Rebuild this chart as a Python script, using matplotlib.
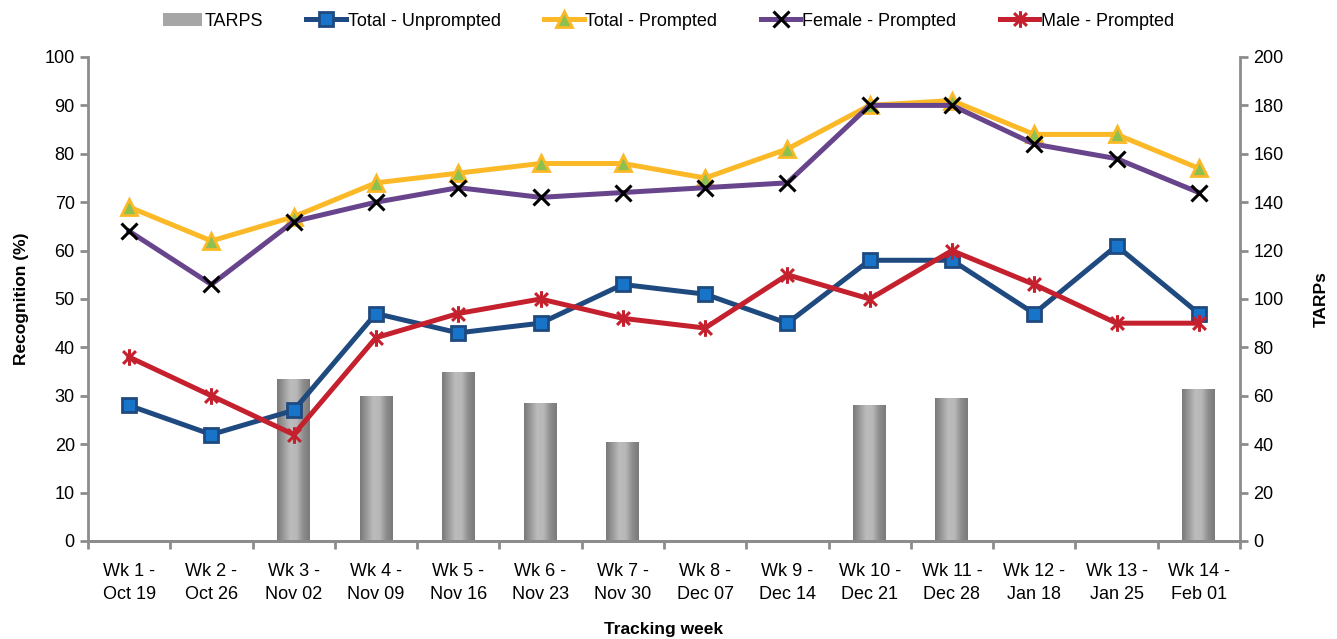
import matplotlib.pyplot as plt
import numpy as np
from matplotlib.path import Path
from matplotlib.colors import LinearSegmentedColormap
from matplotlib.patches import Patch
from matplotlib.lines import Line2D

plt.rcParams['font.family'] = ['Liberation Sans', 'DejaVu Sans']

weeks = ['Wk 1 -\nOct 19', 'Wk 2 -\nOct 26', 'Wk 3 -\nNov 02', 'Wk 4 -\nNov 09',
         'Wk 5 -\nNov 16', 'Wk 6 -\nNov 23', 'Wk 7 -\nNov 30', 'Wk 8 -\nDec 07',
         'Wk 9 -\nDec 14', 'Wk 10 -\nDec 21', 'Wk 11 -\nDec 28', 'Wk 12 -\nJan 18',
         'Wk 13 -\nJan 25', 'Wk 14 -\nFeb 01']
tarps = [0, 0, 67, 60, 70, 57, 41, 0, 0, 56, 59, 0, 0, 63]
total_unprompted = [28, 22, 27, 47, 43, 45, 53, 51, 45, 58, 58, 47, 61, 47]
total_prompted = [69, 62, 67, 74, 76, 78, 78, 75, 81, 90, 91, 84, 84, 77]
female_prompted = [64, 53, 66, 70, 73, 71, 72, 73, 74, 90, 90, 82, 79, 72]
male_prompted = [38, 30, 22, 42, 47, 50, 46, 44, 55, 50, 60, 53, 45, 45]

# excel style star: an x with a vertical stroke
star = Path([(-1, -1), (1, 1), (-1, 1), (1, -1), (0, -1.3), (0, 1.3)],
            [Path.MOVETO, Path.LINETO, Path.MOVETO, Path.LINETO, Path.MOVETO, Path.LINETO])

axis_grey = '#8c8c8c'
x = np.arange(len(weeks))

fig = plt.figure(figsize=(13.37, 6.39), dpi=100)
ax = fig.add_axes([0.0658, 0.1534, 0.8616, 0.7574])
ax2 = ax.twinx()
ax.set_zorder(ax2.get_zorder() + 1)
ax.patch.set_visible(False)

# gradient cylinder bars on the right axis
cmap = LinearSegmentedColormap.from_list('cyl', ['#7a7a7a', '#9a9a9a', '#bcbcbc', '#b8b8b8', '#8e8e8e', '#7a7a7a'])
grad = np.linspace(0, 1, 64).reshape(1, -1)
bw = 0.4
bars = ax2.bar(x, tarps, width=bw, color='#a6a6a6', linewidth=0)
for b in bars:
    if b.get_height() <= 0:
        continue
    im = ax2.imshow(grad, cmap=cmap, aspect='auto', interpolation='bicubic',
                    extent=(b.get_x(), b.get_x() + b.get_width(), 0, b.get_height()), zorder=2)
    im.set_clip_path(b)

lw = 3.6
ax.plot(x, total_unprompted, color='#1f4a80', lw=lw, marker='s', ms=10.5,
        mfc='#1874c8', mec='#1f4a80', mew=2, zorder=3)
ax.plot(x, total_prompted, color='#fbb927', lw=lw, marker='^', ms=11,
        mfc='#8dc04f', mec='#fbb927', mew=2, zorder=2)
ax.plot(x, female_prompted, color='#67448b', lw=lw, marker='x', ms=11,
        mec='black', mew=2.2, zorder=2)
ax.plot(x, male_prompted, color='#c5202e', lw=lw, marker=star, ms=12,
        mec='#c5202e', mew=2.2, zorder=3)

ax.set_xlim(-0.5, len(weeks) - 0.5)
ax.set_ylim(0, 100)
ax.set_yticks(range(0, 101, 10))
ax2.set_ylim(0, 200)
ax2.set_yticks(range(0, 201, 20))
ax2.set_xlim(-0.5, len(weeks) - 0.5)

ax.set_xticks(np.arange(-0.5, len(weeks), 1.0))
ax.set_xticklabels([])
ax.set_xticks(x, minor=True)
ax.set_xticklabels(weeks, minor=True, linespacing=1.45)
ax.tick_params(axis='x', which='minor', length=0, labelsize=13, pad=16)
ax.tick_params(axis='x', which='major', length=6, width=2, color=axis_grey)
ax.tick_params(axis='y', length=6, width=2, color=axis_grey, labelsize=13)
ax2.tick_params(axis='y', length=6, width=2, color=axis_grey, labelsize=13)

for a in (ax, ax2):
    a.spines['top'].set_visible(False)
    for s in ('left', 'right', 'bottom'):
        a.spines[s].set_color(axis_grey)
        a.spines[s].set_linewidth(2)
ax.spines['right'].set_visible(False)
ax2.spines['left'].set_visible(False)

ax.set_ylabel('Recognition (%)', fontsize=12.5, fontweight='bold', labelpad=11)
ax2.set_ylabel('TARPs', fontsize=12.5, fontweight='bold', labelpad=22)
ax.set_xlabel('Tracking week', fontsize=12.5, fontweight='bold', labelpad=14)

handles = [
    Patch(facecolor='#a6a6a6', edgecolor='none'),
    Line2D([], [], color='#1f4a80', lw=lw, marker='s', ms=10.5, mfc='#1874c8', mec='#1f4a80', mew=2),
    Line2D([], [], color='#fbb927', lw=lw, marker='^', ms=11, mfc='#8dc04f', mec='#fbb927', mew=2),
    Line2D([], [], color='#67448b', lw=lw, marker='x', ms=11, mec='black', mew=2.2),
    Line2D([], [], color='#c5202e', lw=lw, marker=star, ms=12, mec='#c5202e', mew=2.2),
]
labels = ['TARPS', 'Total - Unprompted', 'Total - Prompted', 'Female - Prompted', 'Male - Prompted']
fig.legend(handles, labels, loc='center', bbox_to_anchor=(0.5, 0.967), ncol=5,
           frameon=False, fontsize=13, handlelength=2.2, handletextpad=0.1, columnspacing=2.4)

fig.savefig('out.png', dpi=100)
